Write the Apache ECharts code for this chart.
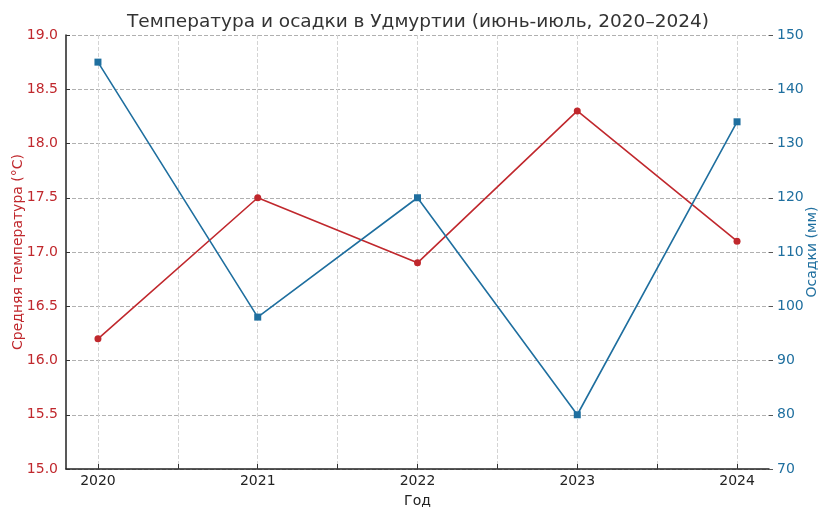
<!DOCTYPE html>
<html>
<head>
<meta charset="utf-8">
<script src="https://cdn.jsdelivr.net/npm/echarts@6/dist/echarts.min.js"></script>
<style>html,body{margin:0;padding:0;background:#fff}#c{width:831px;height:520px}</style>
</head>
<body>
<div id="c"></div>
<script>
const years = [2020, 2021, 2022, 2023, 2024];
const temperature = [16.2, 17.5, 16.9, 18.3, 17.1];
const precipitation = [145, 98, 120, 80, 134];
const xTicks = [2020, 2020.5, 2021, 2021.5, 2022, 2022.5, 2023, 2023.5, 2024];
const xLabels = [2020, 2021, 2022, 2023, 2024];

const RED = '#c0282d';
const BLUE = '#1f6f9f';
const FONT = 'DejaVu Sans';

const chart = echarts.init(document.getElementById('c'), null, {renderer: 'canvas'});
chart.setOption({
  animation: false,
  textStyle: {fontFamily: FONT},
  title: {
    text: 'Температура и осадки в Удмуртии (июнь-июль, 2020–2024)',
    left: 413, textAlign: 'center', top: 8,
    textStyle: {fontFamily: FONT, fontSize: 18.5, fontWeight: 'normal', color: '#333'}
  },
  grid: {left: 66, right: 62, top: 35, bottom: 51, outerBoundsMode: 'none', containLabel: false},
  xAxis: {
    type: 'value', min: 2019.8, max: 2024.2,
    name: 'Год', nameLocation: 'middle', nameGap: 25, nameMoveOverlap: false,
    nameTextStyle: {fontFamily: FONT, fontSize: 14, color: '#222'},
    axisLine: {show: true, lineStyle: {color: '#222', width: 1.5}},
    axisTick: {show: true, inside: true, length: 5, customValues: xTicks, lineStyle: {color: '#333'}},
    axisLabel: {customValues: xLabels, fontFamily: FONT, fontSize: 14, color: '#222', margin: 5, formatter: v => String(v)},
    splitLine: {show: true, lineStyle: {color: '#d4d4d4', type: 'dashed', width: 1}}
  },
  yAxis: [{
    type: 'value', min: 15, max: 19, interval: 0.5, position: 'left',
    name: 'Средняя температура (°C)', nameLocation: 'middle', nameGap: 41, nameRotate: 90, nameMoveOverlap: false,
    nameTextStyle: {fontFamily: FONT, fontSize: 14, color: RED},
    axisLine: {show: true, lineStyle: {color: '#222', width: 1.5}},
    axisTick: {show: true, inside: true, length: 4, lineStyle: {color: '#333'}},
    axisLabel: {fontFamily: FONT, fontSize: 14, color: RED, margin: 8, formatter: v => v.toFixed(1)},
    splitLine: {show: true, lineStyle: {color: '#b0b0b0', type: 'dashed', width: 1}}
  }, {
    type: 'value', min: 70, max: 150, interval: 10, position: 'right',
    name: 'Осадки (мм)', nameLocation: 'middle', nameGap: 36, nameRotate: 90, nameMoveOverlap: false,
    nameTextStyle: {fontFamily: FONT, fontSize: 14, color: BLUE},
    axisLine: {show: false},
    axisTick: {show: true, inside: false, length: 4, lineStyle: {color: '#555'}},
    axisLabel: {fontFamily: FONT, fontSize: 14, color: BLUE, margin: 8},
    splitLine: {show: false}
  }],
  series: [{
    name: 'Температура', type: 'line', yAxisIndex: 0,
    data: years.map((y, i) => [y, temperature[i]]),
    symbol: 'circle', symbolSize: 7,
    lineStyle: {color: RED, width: 1.6},
    itemStyle: {color: RED}
  }, {
    name: 'Осадки', type: 'line', yAxisIndex: 1,
    data: years.map((y, i) => [y, precipitation[i]]),
    symbol: 'rect', symbolSize: 7,
    lineStyle: {color: BLUE, width: 1.6},
    itemStyle: {color: BLUE}
  }]
});
</script>
</body>
</html>
